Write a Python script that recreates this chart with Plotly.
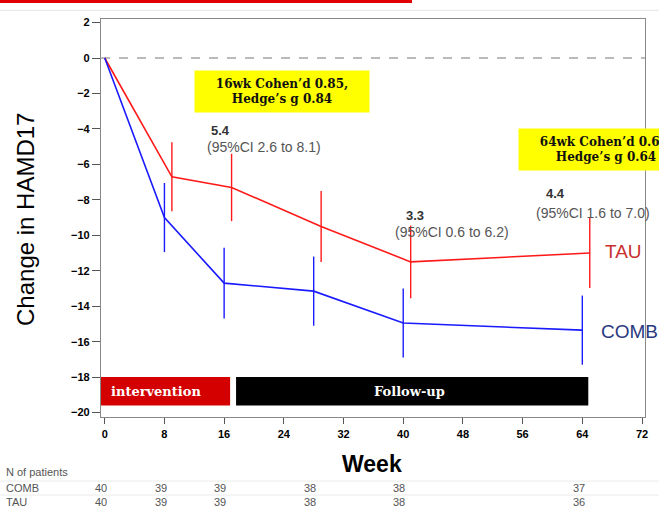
import plotly.graph_objects as go

# ---- data ----
tau_weeks = [0, 9, 17, 29, 41, 65]
tau_mean = [0, -6.7, -7.3, -9.5, -11.5, -11.0]
tau_err = [0, 1.95, 1.9, 2.0, 2.05, 1.98]

comb_weeks = [0, 8, 16, 28, 40, 64]
comb_mean = [0, -9.0, -12.7, -13.15, -14.95, -15.35]
comb_err = [0, 1.95, 2.0, 1.95, 1.95, 1.95]

n_weeks = [0, 8, 16, 28, 40, 64]
n_comb = [40, 39, 39, 38, 38, 37]
n_tau = [40, 39, 39, 38, 38, 36]

x_ticks = [0, 8, 16, 24, 32, 40, 48, 56, 64, 72]
y_ticks = list(range(-20, 3, 2))

diffs = [("5.4", "(95%CI 2.6 to 8.1)", 15.5, -4.07, 21.3, -5.03),
         ("3.3", "(95%CI 0.6 to 6.2)", 41.6, -8.87, 46.6, -9.83),
         ("4.4", "(95%CI 1.6 to 7.0)", 60.4, -7.63, 65.4, -8.76)]

phases = [("intervention", -0.5, 16.8, "#d40000"), ("Follow-up", 17.6, 64.8, "#000000")]

RED = "#ff1a1a"
BLUE = "#1a1aff"
SANS = "Liberation Sans"
SERIF = "DejaVu Serif"

fig = go.Figure()
fig.add_trace(go.Scatter(x=tau_weeks, y=tau_mean, mode="lines",
                         line=dict(color=RED, width=1.6),
                         error_y=dict(type="data", array=tau_err, color=RED, thickness=1.4, width=0),
                         showlegend=False))
fig.add_trace(go.Scatter(x=comb_weeks, y=comb_mean, mode="lines",
                         line=dict(color=BLUE, width=1.6),
                         error_y=dict(type="data", array=comb_err, color=BLUE, thickness=1.4, width=0),
                         showlegend=False))

shapes = []
shapes.append(dict(type="line", xref="paper", x0=0, x1=1, yref="y", y0=0, y1=0,
                   line=dict(color="#777", width=1, dash="dash"), layer="below"))
annotations = []
for label, x0, x1, col in phases:
    shapes.append(dict(type="rect", xref="x", yref="y", x0=x0, x1=x1, y0=-19.6, y1=-18.0,
                       fillcolor=col, line=dict(width=0)))
    if label == "intervention":
        annotations.append(dict(x=x0 + 1.1, xanchor="left", y=-18.8, xref="x", yref="y", text=label,
                                showarrow=False,
                                font=dict(family=SERIF, size=13, color="white", weight="bold")))
    else:
        annotations.append(dict(x=(x0 + x1) / 2 - 0.3, xanchor="center", y=-18.8, xref="x", yref="y",
                                text=label, showarrow=False,
                                font=dict(family=SERIF, size=13, color="white", weight="bold")))

# top slide decorations
shapes.append(dict(type="rect", xref="paper", yref="paper", x0=-0.19, x1=0.5717, y0=1.040, y1=1.06,
                   fillcolor="#e00000", line=dict(width=0)))
shapes.append(dict(type="line", xref="paper", yref="paper", x0=-0.19, x1=1.03, y0=1.022, y1=1.022,
                   line=dict(color="#e6e6e6", width=1)))
# bottom table lines
for yy in [-0.161, -0.196]:
    shapes.append(dict(type="line", xref="paper", yref="paper", x0=-0.19, x1=1.03, y0=yy, y1=yy,
                       line=dict(color="#ebebeb", width=1)))

for big, ci, bx, by, cx, cy in diffs:
    annotations.append(dict(x=bx, y=by, xref="x", yref="y", text=big, showarrow=False,
                            font=dict(family=SANS, size=13, color="#333", weight="bold")))
    annotations.append(dict(x=cx, y=cy, xref="x", yref="y", text=ci, showarrow=False,
                            font=dict(family=SANS, size=14, color="#555")))

# yellow effect-size boxes
annotations.append(dict(x=23.7, y=-1.88, xref="x", yref="y",
                        text="16wk Cohen’d 0.85,<br>Hedge’s g 0.84", showarrow=False,
                        bgcolor="#ffff00", width=172, height=39, align="center",
                        font=dict(family=SERIF, size=12, color="#111", weight="bold")))
annotations.append(dict(x=67.2, y=-5.14, xref="x", yref="y",
                        text="64wk Cohen’d 0.65,<br>Hedge’s g 0.64", showarrow=False,
                        bgcolor="#ffff00", width=172, height=39, align="center",
                        font=dict(family=SERIF, size=12, color="#111", weight="bold")))

# series labels
annotations.append(dict(x=66.8, y=-10.9, xref="x", yref="y", text="TAU", showarrow=False,
                        xanchor="left", font=dict(family=SANS, size=19, color="#c83030")))
annotations.append(dict(x=66.2, y=-15.4, xref="x", yref="y", text="COMB", showarrow=False,
                        xanchor="left", font=dict(family=SANS, size=19, color="#2a3a80")))

# axis titles
annotations.append(dict(x=0, y=0.495, xref="paper", yref="paper", xshift=-75, xanchor="center",
                        yanchor="middle", text="Change in HAMD17", textangle=-90, showarrow=False,
                        font=dict(family=SANS, size=24, color="black")))
annotations.append(dict(x=0.5, y=0, xref="paper", yref="paper", yshift=-47, xshift=-1, xanchor="center",
                        yanchor="middle", text="Week",
                        showarrow=False, font=dict(family=SANS, size=23, color="black", weight="bold")))

# patients table
row_y = {"head": -0.138, "COMB": -0.178, "TAU": -0.2136}
annotations.append(dict(x=0, y=row_y["head"], xref="paper", yref="paper", xshift=-97, xanchor="left",
                        yanchor="middle", text="N of patients", showarrow=False,
                        font=dict(family=SANS, size=11, color="#555")))
for name in ["COMB", "TAU"]:
    annotations.append(dict(x=0, y=row_y[name], xref="paper", yref="paper", xshift=-97, xanchor="left",
                            yanchor="middle", text=name, showarrow=False,
                            font=dict(family=SANS, size=11, color="#555")))
for w, nc, nt in zip(n_weeks, n_comb, n_tau):
    annotations.append(dict(x=w - 0.5, y=row_y["COMB"], xref="x", yref="paper", yanchor="middle",
                            text=str(nc), showarrow=False, font=dict(family=SANS, size=11, color="#555")))
    annotations.append(dict(x=w - 0.5, y=row_y["TAU"], xref="x", yref="paper", yanchor="middle",
                            text=str(nt), showarrow=False, font=dict(family=SANS, size=11, color="#555")))

fig.update_layout(
    width=659, height=509,
    margin=dict(l=101, r=14, t=19, b=92),
    paper_bgcolor="white", plot_bgcolor="white",
    shapes=shapes, annotations=annotations,
    xaxis=dict(range=[-0.5, 72.4], tickvals=x_ticks, ticks="outside", ticklen=6, tickcolor="#555",
               ticklabelstandoff=1,
               showgrid=False, zeroline=False, showline=True, linecolor="#888", linewidth=1.2, mirror=True,
               tickfont=dict(family=SANS, size=11, color="black", weight="bold")),
    yaxis=dict(range=[-20.25, 2.2], tickvals=y_ticks, ticks="outside", ticklen=8, tickcolor="#555",
               showgrid=False, zeroline=False, showline=True, linecolor="#888", linewidth=1.2, mirror=True,
               tickfont=dict(family=SANS, size=11, color="black", weight="bold")),
)

fig.write_html("out.html", config={"displayModeBar": False},
               post_script="document.body.style.margin='0';document.body.style.overflow='hidden';")
